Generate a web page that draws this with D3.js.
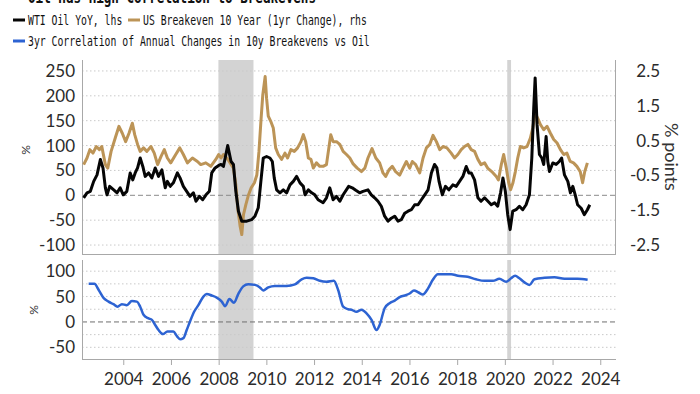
<!DOCTYPE html>
<html>
<head>
<meta charset="utf-8">
<script src="https://cdn.jsdelivr.net/npm/d3@7"></script>
<style>
    html, body { margin: 0; padding: 0; background: #fff; }
    svg { display: block; }
</style>
</head>
<body>
<div id="chart"></div>
<script>
// WTI oil, year over year % (lhs)
const oilYears = [2002.34, 2002.48, 2002.62, 2002.76, 2002.9, 2003.04, 2003.15, 2003.25, 2003.32, 2003.43, 2003.6, 2003.74, 2003.87, 2004.0, 2004.15, 2004.29, 2004.4, 2004.5, 2004.6, 2004.71, 2004.82, 2004.92, 2005.06, 2005.2, 2005.34, 2005.48, 2005.62, 2005.76, 2005.85, 2005.97, 2006.1, 2006.27, 2006.38, 2006.52, 2006.66, 2006.8, 2006.94, 2007.05, 2007.19, 2007.33, 2007.47, 2007.61, 2007.71, 2007.85, 2008.0, 2008.1, 2008.2, 2008.38, 2008.52, 2008.62, 2008.72, 2008.83, 2008.97, 2009.18, 2009.38, 2009.52, 2009.66, 2009.77, 2009.87, 2010.01, 2010.15, 2010.25, 2010.33, 2010.43, 2010.57, 2010.71, 2010.85, 2010.99, 2011.13, 2011.27, 2011.41, 2011.55, 2011.62, 2011.76, 2011.9, 2012.03, 2012.17, 2012.38, 2012.52, 2012.66, 2012.8, 2012.94, 2013.08, 2013.22, 2013.45, 2013.6, 2013.75, 2013.91, 2014.05, 2014.26, 2014.4, 2014.54, 2014.68, 2014.82, 2014.96, 2015.1, 2015.24, 2015.38, 2015.52, 2015.66, 2015.8, 2015.94, 2016.08, 2016.22, 2016.36, 2016.5, 2016.64, 2016.78, 2016.92, 2017.05, 2017.15, 2017.24, 2017.38, 2017.51, 2017.65, 2017.82, 2017.96, 2018.1, 2018.24, 2018.38, 2018.49, 2018.59, 2018.73, 2018.87, 2019.0, 2019.15, 2019.29, 2019.43, 2019.57, 2019.7, 2019.82, 2019.92, 2020.02, 2020.12, 2020.22, 2020.33, 2020.47, 2020.61, 2020.75, 2020.89, 2021.03, 2021.13, 2021.21, 2021.27, 2021.35, 2021.45, 2021.55, 2021.63, 2021.73, 2021.8, 2021.87, 2022.01, 2022.15, 2022.28, 2022.38, 2022.5, 2022.64, 2022.75, 2022.85, 2022.95, 2023.05, 2023.2, 2023.33, 2023.46, 2023.56];
const oilYoY = [-5, 5, 8, 28, 41, 72, 55, 15, 1, 18, 11, 5, 15, 1, 8, 45, 31, 45, 55, 75, 58, 38, 45, 35, 55, 38, 51, 15, 28, 18, 25, 45, 35, 18, 8, -2, 5, -12, -2, -9, 1, 8, 45, 55, 60, 62, 58, 100, 68, 62, 8, -32, -52, -52, -49, -42, -25, 28, 75, 78, 75, 68, 35, 11, 5, 11, 5, 21, 28, 38, 25, 18, 1, 11, 5, 1, -9, -15, -5, 15, -9, -2, -12, 1, 18, 15, 10, 5, 8, 11, 1, -5, -12, -22, -42, -52, -46, -42, -52, -49, -36, -32, -29, -19, -19, -9, 1, 11, 45, 62, 55, 28, 1, 18, 11, 21, 18, 28, 38, 58, 45, 45, 31, -5, -12, -5, -12, -19, -15, -22, 5, 35, 8, -39, -69, -32, -29, -22, -29, -19, 1, 75, 175, 236, 142, 82, 75, 62, 118, 68, 48, 65, 62, 68, 75, 41, 28, 5, 18, 1, -19, -26, -39, -29, -19];

// US 10y breakeven, 1yr change in % points (rhs)
const beYears = [2002.34, 2002.48, 2002.6, 2002.73, 2002.87, 2003.0, 2003.1, 2003.25, 2003.35, 2003.49, 2003.68, 2003.82, 2003.96, 2004.1, 2004.24, 2004.38, 2004.48, 2004.6, 2004.71, 2004.85, 2004.99, 2005.16, 2005.3, 2005.44, 2005.58, 2005.72, 2005.85, 2005.99, 2006.2, 2006.37, 2006.52, 2006.69, 2006.9, 2007.11, 2007.25, 2007.46, 2007.67, 2007.88, 2008.0, 2008.1, 2008.2, 2008.34, 2008.48, 2008.62, 2008.72, 2008.8, 2008.9, 2008.97, 2009.04, 2009.14, 2009.25, 2009.36, 2009.5, 2009.6, 2009.69, 2009.78, 2009.85, 2009.95, 2010.01, 2010.08, 2010.18, 2010.29, 2010.39, 2010.5, 2010.64, 2010.78, 2010.89, 2011.03, 2011.17, 2011.31, 2011.45, 2011.55, 2011.65, 2011.76, 2011.87, 2011.97, 2012.1, 2012.24, 2012.38, 2012.52, 2012.62, 2012.7, 2012.8, 2012.94, 2013.08, 2013.22, 2013.36, 2013.5, 2013.64, 2013.81, 2013.99, 2014.13, 2014.26, 2014.43, 2014.59, 2014.75, 2014.89, 2015.0, 2015.14, 2015.28, 2015.42, 2015.59, 2015.73, 2015.87, 2016.01, 2016.12, 2016.26, 2016.43, 2016.57, 2016.71, 2016.85, 2016.99, 2017.13, 2017.27, 2017.41, 2017.57, 2017.75, 2017.89, 2018.03, 2018.17, 2018.31, 2018.45, 2018.59, 2018.73, 2018.87, 2019.0, 2019.15, 2019.29, 2019.45, 2019.64, 2019.73, 2019.85, 2019.95, 2020.06, 2020.16, 2020.24, 2020.34, 2020.44, 2020.54, 2020.65, 2020.79, 2020.93, 2021.07, 2021.17, 2021.27, 2021.38, 2021.49, 2021.63, 2021.77, 2021.91, 2022.05, 2022.19, 2022.33, 2022.47, 2022.6, 2022.74, 2022.88, 2023.02, 2023.16, 2023.26, 2023.35, 2023.46];
const beChange = [-0.19, 0, 0.24, 0.14, 0.33, 0.24, 0.33, -0.19, -0.29, 0.19, 0.61, 0.91, 0.71, 0.47, 0.71, 1.0, 0.67, 0.39, 0.19, 0.29, 0.19, 0.33, 0.14, -0.19, 0.04, 0.24, 0, -0.14, 0.1, 0.29, 0.1, -0.14, 0, -0.1, -0.19, -0.14, -0.24, -0.04, 0.1, 0, 0.1, 0, -0.14, -0.29, -0.77, -1.44, -1.96, -2.2, -1.63, -1.34, -1.06, -0.86, -0.71, -0.49, 0.19, 1.14, 1.81, 2.34, 1.71, 1.2, 1.06, 0.86, 0.29, 0.1, -0.04, 0.14, 0, 0.24, 0.19, 0.29, 0.47, 0.67, 0.47, 0, -0.04, -0.29, -0.14, -0.24, -0.24, -0.19, 0.29, 0.67, 0.47, 0.47, 0.39, 0.19, 0.1, 0, -0.17, -0.29, -0.39, -0.29, 0, 0.27, 0, -0.14, -0.43, -0.53, -0.34, -0.24, -0.39, -0.49, -0.29, -0.1, -0.29, -0.1, -0.19, -0.43, 0, 0.29, 0.39, 0.65, 0.47, 0.24, 0.33, 0.29, 0.14, 0, 0.1, 0.24, 0.33, 0.39, 0.24, 0.19, -0.04, -0.19, -0.14, -0.3, -0.39, -0.53, -0.63, -0.19, 0.1, -0.29, -0.71, -0.91, -0.71, -0.39, 0, 0.33, 0.29, 0.33, 0.57, 0.86, 1.29, 1.14, 0.96, 0.81, 0.91, 0.71, 0.53, 0.43, 0.24, 0.1, 0.14, -0.1, -0.14, -0.24, -0.39, -0.71, -0.39, -0.14];

// 3yr correlation, %
const corrYears = [2002.55, 2002.79, 2002.97, 2003.18, 2003.38, 2003.59, 2003.76, 2003.94, 2004.15, 2004.36, 2004.57, 2004.71, 2004.85, 2005.06, 2005.2, 2005.34, 2005.48, 2005.66, 2005.85, 2006.1, 2006.25, 2006.38, 2006.52, 2006.66, 2006.8, 2006.97, 2007.15, 2007.36, 2007.5, 2007.71, 2007.92, 2008.13, 2008.27, 2008.45, 2008.64, 2008.83, 2009.03, 2009.24, 2009.52, 2009.73, 2009.87, 2010.08, 2010.36, 2010.85, 2011.2, 2011.48, 2011.69, 2011.97, 2012.24, 2012.52, 2012.83, 2013.01, 2013.22, 2013.43, 2013.57, 2013.78, 2013.99, 2014.2, 2014.41, 2014.62, 2014.75, 2014.96, 2015.17, 2015.38, 2015.59, 2015.8, 2016.01, 2016.19, 2016.38, 2016.56, 2016.78, 2016.98, 2017.19, 2017.47, 2017.75, 2018.03, 2018.44, 2018.79, 2019.15, 2019.5, 2019.77, 2020.05, 2020.26, 2020.43, 2020.61, 2020.82, 2021.03, 2021.24, 2021.66, 2022.08, 2022.5, 2023.05, 2023.47];
const corrValues = [75, 75, 63, 47, 40, 35, 30, 35, 33, 41, 40, 30, 14, 7, 4, -6, -16, -24, -19, -19, -28, -34, -32, -16, 1, 20, 33, 50, 55, 52, 48, 40, 31, 45, 38, 56, 70, 74, 73, 68, 62, 68, 71, 71, 74, 84, 87, 86, 81, 79, 81, 63, 30, 25, 24, 20, 24, 17, 4, -16, -6, 27, 37, 42, 49, 52, 56, 62, 58, 54, 66, 83, 94, 94, 94, 91, 89, 84, 81, 81, 85, 79, 86, 91, 86, 78, 73, 84, 87, 88, 85, 85, 83];

// axis ticks
const yearTicks = [2004, 2006, 2008, 2010, 2012, 2014, 2016, 2018, 2020, 2022, 2024];
const leftTicks = [250, 200, 150, 100, 50, 0, -50, -100];
const rightTicks = [2.5, 1.5, 0.5, -0.5, -1.5, -2.5];
const corrTicks = [100, 50, 0, -50];
const corrGrid = [100, 75, 50, 25, 0, -25, -50];

// shaded periods (recessions)
const shadeStart = [2007.99, 2020.1];
const shadeEnd = [2009.46, 2020.26];

const legendLabels = ['WTI Oil YoY, lhs', 'US Breakeven 10 Year (1yr Change), rhs', '3yr Correlation of Annual Changes in 10y Breakevens vs Oil'];
const titleText = 'Oil Has High Correlation to Breakevens';

let width = 700, height = 394;
let plotLeft = 82, plotRight = 616;
let top1 = 60, bottom1 = 254, top2 = 260, bottom2 = 359;

let colors = {oil: '#050505', be: '#bc9457', corr: '#2d63d2', grid: '#c9c9c9', axis: '#a8a8a8', text: '#2b2b2b'};
let tickFont = 'Lato, "Open Sans", sans-serif';
let monoFont = '"DejaVu Sans Mono", "Liberation Mono", monospace';

// plain hyphen for negatives, like the original
let fmtInt = function(d) { return String(d); };
let fmtOne = function(d) { return d.toFixed(1); };

let svg = d3.select('#chart').append('svg')
    .attr('width', width)
    .attr('height', height);

let x = d3.scaleLinear().domain([2002.27, 2024.66]).range([plotLeft, plotRight]);
let yLeft = d3.scaleLinear().domain([-118, 272]).range([bottom1, top1]);
// rhs is tied to lhs: 2.5 <-> 250, -2.5 <-> -100
let yRight = d3.scaleLinear().domain([(-118 - 75) / 70, (272 - 75) / 70]).range([bottom1, top1]);
let yCorr = d3.scaleLinear().domain([-73, 122]).range([bottom2, top2]);

// title, mostly cut off at top edge
svg.append('text')
    .attr('transform', 'translate(28,2.5) scale(1,1.35)')
    .attr('font-family', monoFont)
    .attr('font-weight', 'bold')
    .attr('font-size', 12.6)
    .attr('fill', '#111')
    .text(titleText);

// legend: narrow mono text, stretched vertically like the original font
let legend = svg.append('g');
let legendItems = [
    {label: legendLabels[0], color: colors.oil, sx: 13, tx: 28, y: 20},
    {label: legendLabels[1], color: colors.be, sx: 128, tx: 143, y: 20},
    {label: legendLabels[2], color: colors.corr, sx: 13, tx: 28, y: 41}
];
legendItems.forEach(function(d) {
    legend.append('line')
        .attr('x1', d.sx).attr('x2', d.sx + 12)
        .attr('y1', d.y).attr('y2', d.y)
        .attr('stroke', d.color)
        .attr('stroke-width', 3);
    legend.append('text')
        .attr('transform', 'translate(' + d.tx + ',' + (d.y + 5) + ') scale(1,1.4)')
        .attr('font-family', monoFont)
        .attr('font-size', 9.8)
        .attr('fill', '#111')
        .text(d.label);
});

// shading in both panels
let shades = d3.range(shadeStart.length).map(function(i) { return {a: shadeStart[i], b: shadeEnd[i]}; });
[[top1, bottom1], [top2, bottom2]].forEach(function(p) {
    svg.append('g').selectAll('rect')
        .data(shades)
        .enter().append('rect')
        .attr('x', function(d) { return x(d.a); })
        .attr('width', function(d) { return x(d.b) - x(d.a); })
        .attr('y', p[0])
        .attr('height', p[1] - p[0])
        .attr('fill', '#d3d3d3');
});

// top panel grid
let grid1 = svg.append('g');
grid1.selectAll('line')
    .data(leftTicks)
    .enter().append('line')
    .attr('x1', plotLeft).attr('x2', plotRight)
    .attr('y1', function(d) { return yLeft(d); })
    .attr('y2', function(d) { return yLeft(d); })
    .attr('stroke', function(d) { return d === 0 ? '#8a8a8a' : colors.grid; })
    .attr('stroke-width', 1)
    .attr('stroke-dasharray', function(d) { return d === 0 ? '5,3' : '1.5,2.5'; });

// bottom panel grid
let grid2 = svg.append('g');
grid2.selectAll('line')
    .data(corrGrid)
    .enter().append('line')
    .attr('x1', plotLeft).attr('x2', plotRight)
    .attr('y1', function(d) { return yCorr(d); })
    .attr('y2', function(d) { return yCorr(d); })
    .attr('stroke', function(d) { return d === 0 ? '#6f6f6f' : colors.grid; })
    .attr('stroke-width', 1)
    .attr('stroke-dasharray', function(d) { return d === 0 ? '5,3' : '1.5,2.5'; });

// top panel axes
let leftAxis = svg.append('g')
    .attr('transform', 'translate(' + plotLeft + ',0)')
    .call(d3.axisLeft(yLeft).tickValues(leftTicks).tickSize(0).tickPadding(7).tickFormat(fmtInt));
leftAxis.select('.domain').attr('stroke', colors.axis).attr('d', 'M0.5,' + top1 + 'V' + bottom1);
leftAxis.selectAll('text')
    .attr('font-family', tickFont)
    .attr('font-size', 17)
    .attr('fill', colors.text);

let rightAxis = svg.append('g')
    .attr('transform', 'translate(' + plotRight + ',0)')
    .call(d3.axisRight(yRight).tickValues(rightTicks).tickSize(0).tickFormat(fmtOne));
rightAxis.select('.domain').attr('stroke', colors.axis).attr('d', 'M-0.5,' + top1 + 'V' + bottom1);
rightAxis.selectAll('text')
    .attr('x', 44)
    .attr('text-anchor', 'end')
    .attr('font-family', tickFont)
    .attr('font-size', 17)
    .attr('fill', colors.text);

svg.append('line')
    .attr('x1', plotLeft).attr('x2', plotRight)
    .attr('y1', bottom1 + 0.5).attr('y2', bottom1 + 0.5)
    .attr('stroke', colors.axis);

// bottom panel axes
let corrAxis = svg.append('g')
    .attr('transform', 'translate(' + plotLeft + ',0)')
    .call(d3.axisLeft(yCorr).tickValues(corrTicks).tickSize(0).tickPadding(7).tickFormat(fmtInt));
corrAxis.select('.domain').attr('stroke', colors.axis).attr('d', 'M0.5,' + top2 + 'V' + bottom2);
corrAxis.selectAll('text')
    .attr('font-family', tickFont)
    .attr('font-size', 17)
    .attr('fill', colors.text);

let xAxis = svg.append('g')
    .attr('transform', 'translate(0,' + bottom2 + ')')
    .call(d3.axisBottom(x).tickValues(yearTicks).tickSize(6).tickPadding(8).tickFormat(d3.format('d')));
xAxis.select('.domain').attr('stroke', colors.axis).attr('d', 'M' + plotLeft + ',0.5H' + plotRight);
xAxis.selectAll('line').attr('stroke', colors.axis);
xAxis.selectAll('text')
    .attr('font-family', tickFont)
    .attr('font-size', 17)
    .attr('fill', colors.text);

// axis titles
svg.append('text')
    .attr('transform', 'translate(30,150) rotate(-90)')
    .attr('text-anchor', 'middle')
    .attr('font-family', tickFont)
    .attr('font-size', 12)
    .attr('fill', '#333')
    .text('%');
svg.append('text')
    .attr('transform', 'translate(38,310) rotate(-90)')
    .attr('text-anchor', 'middle')
    .attr('font-family', tickFont)
    .attr('font-size', 12)
    .attr('fill', '#333')
    .text('%');
svg.append('text')
    .attr('transform', 'translate(665,157) rotate(90)')
    .attr('text-anchor', 'middle')
    .attr('font-family', tickFont)
    .attr('font-size', 18)
    .attr('fill', '#333')
    .text('% points');

// series
let oilData = oilYears.map(function(d, i) { return {x: d, y: oilYoY[i]}; });
let beData = beYears.map(function(d, i) { return {x: d, y: beChange[i]}; });
let corrData = corrYears.map(function(d, i) { return {x: d, y: corrValues[i]}; });

let beLine = d3.line()
    .x(function(d) { return x(d.x); })
    .y(function(d) { return yRight(d.y); });
let oilLine = d3.line()
    .x(function(d) { return x(d.x); })
    .y(function(d) { return yLeft(d.y); });
let corrLine = d3.line()
    .curve(d3.curveMonotoneX)
    .x(function(d) { return x(d.x); })
    .y(function(d) { return yCorr(d.y); });

svg.append('path')
    .datum(beData)
    .attr('fill', 'none')
    .attr('stroke', colors.be)
    .attr('stroke-width', 3)
    .attr('stroke-linejoin', 'round')
    .attr('d', beLine);

svg.append('path')
    .datum(oilData)
    .attr('fill', 'none')
    .attr('stroke', colors.oil)
    .attr('stroke-width', 3)
    .attr('stroke-linejoin', 'round')
    .attr('d', oilLine);

svg.append('path')
    .datum(corrData)
    .attr('fill', 'none')
    .attr('stroke', colors.corr)
    .attr('stroke-width', 2.5)
    .attr('stroke-linejoin', 'round')
    .attr('d', corrLine);
</script>
</body>
</html>
